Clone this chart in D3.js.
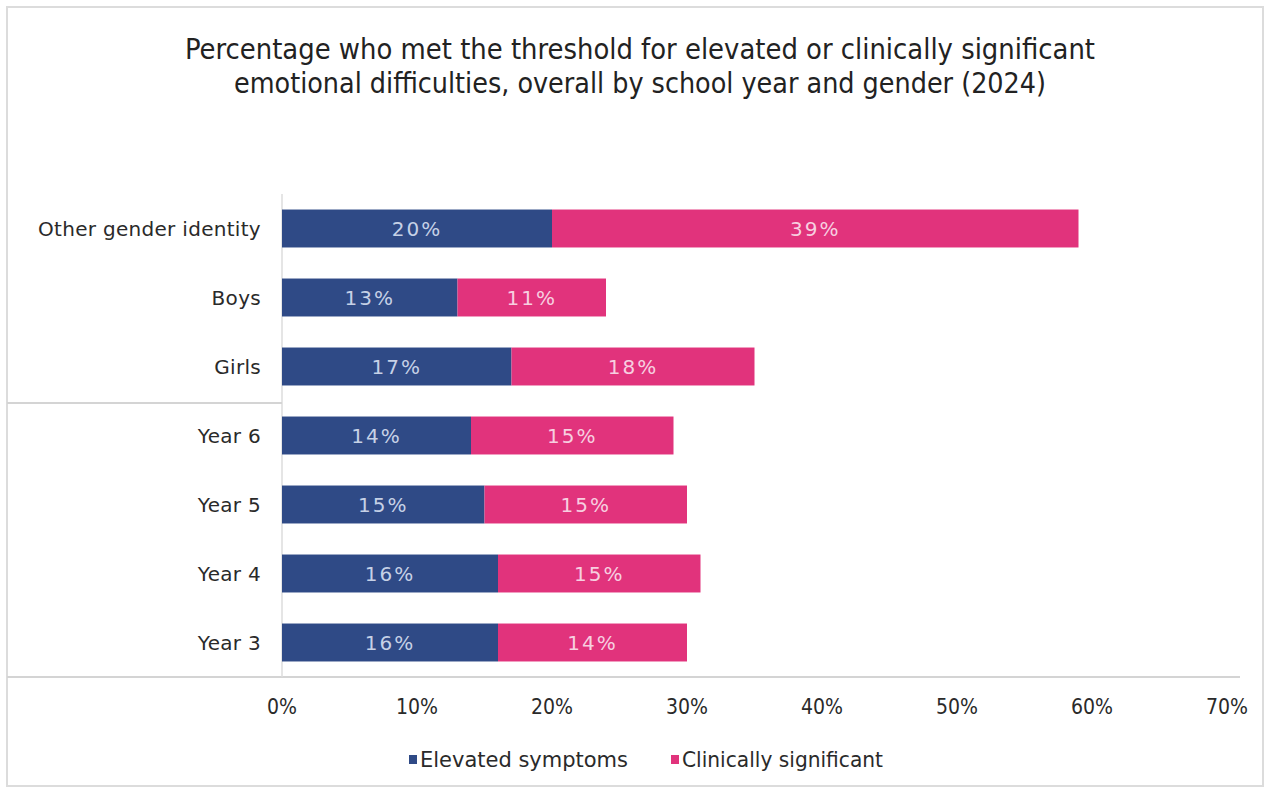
<!DOCTYPE html>
<html>
<head>
<meta charset="utf-8">
<script src="https://cdn.jsdelivr.net/npm/d3@7"></script>
<style>
  html, body { margin: 0; padding: 0; background: #ffffff; }
  svg { display: block; }
</style>
</head>
<body>
<div id="chart"></div>
<script>
// Categories, top to bottom
const categories = ["Other gender identity", "Boys", "Girls", "Year 6", "Year 5", "Year 4", "Year 3"];
// Percentage meeting each threshold
const elevated = [20, 13, 17, 14, 15, 16, 16];
const clinical = [39, 11, 18, 15, 15, 15, 14];
const seriesNames = ["Elevated symptoms", "Clinically significant"];
const tickValues = [0, 10, 20, 30, 40, 50, 60, 70];
const titleLines = [
  "Percentage who met the threshold for elevated or clinically significant",
  "emotional difficulties, overall by school year and gender (2024)"
];

const W = 1273, H = 791;
const colors = ["#2f4a86", "#e1337c"];
const condensed = "'Liberation Sans Narrow', 'DejaVu Sans Condensed', 'Arial Narrow', sans-serif";

const svg = d3.select("#chart").append("svg")
  .attr("width", W).attr("height", H);

// outer frame
svg.append("rect")
  .attr("x", 7).attr("y", 7).attr("width", 1256).attr("height", 779)
  .attr("fill", "#fff").attr("stroke", "#dcdcdc").attr("stroke-width", 2);

// title
const titleWidths = [910, 812];
svg.append("g").selectAll("text").data(titleLines).join("text")
  .attr("x", 640).attr("y", (d, i) => 59 + i * 34)
  .attr("text-anchor", "middle")
  .attr("font-family", condensed)
  .attr("font-size", 28)
  .attr("fill", "#222")
  .attr("textLength", (d, i) => titleWidths[i])
  .attr("lengthAdjust", "spacingAndGlyphs")
  .text(d => d);

const x = d3.scaleLinear().domain([0, 70]).range([282, 1227]);
const y = d3.scaleBand().domain(categories).range([194, 677])
  .paddingInner(0.45).paddingOuter(0.225);

// bottom axis baseline
svg.append("line")
  .attr("x1", 7).attr("x2", 1240).attr("y1", 677).attr("y2", 677)
  .attr("stroke", "#d4d4d4").attr("stroke-width", 2);

// vertical category axis line
svg.append("line")
  .attr("x1", x(0)).attr("x2", x(0)).attr("y1", 194).attr("y2", 677)
  .attr("stroke", "#dddddd").attr("stroke-width", 1.5);

// divider between gender and school-year groups
const divY = y("Girls") + y.bandwidth() + (y.step() - y.bandwidth()) / 2 + 2;
svg.append("line")
  .attr("x1", 7).attr("x2", x(0)).attr("y1", divY).attr("y2", divY)
  .attr("stroke", "#d4d4d4").attr("stroke-width", 2);

// stacked data
const rows = categories.map((c, i) => ({ cat: c, values: [elevated[i], clinical[i]] }));
const segs = [];
rows.forEach(r => {
  let acc = 0;
  r.values.forEach((v, k) => {
    segs.push({ cat: r.cat, k, x0: acc, x1: acc + v, v });
    acc += v;
  });
});

svg.append("g").selectAll("rect").data(segs).join("rect")
  .attr("x", d => x(d.x0))
  .attr("y", d => y(d.cat))
  .attr("width", d => x(d.x1) - x(d.x0))
  .attr("height", y.bandwidth())
  .attr("fill", d => colors[d.k]);

// value labels
svg.append("g").selectAll("text").data(segs).join("text")
  .attr("x", d => (x(d.x0) + x(d.x1)) / 2)
  .attr("y", d => y(d.cat) + y.bandwidth() / 2)
  .attr("dy", "0.36em")
  .attr("text-anchor", "middle")
  .attr("font-family", "'DejaVu Sans', sans-serif")
  .attr("font-size", 20)
  .attr("letter-spacing", 2)
  .attr("fill", d => d.k === 0 ? "#c6d1e6" : "#f7cfe0")
  .text(d => d.v + "%");

// category labels
svg.append("g").selectAll("text").data(categories).join("text")
  .attr("x", 261)
  .attr("y", d => y(d) + y.bandwidth() / 2)
  .attr("dy", "0.36em")
  .attr("text-anchor", "end")
  .attr("font-family", "'DejaVu Sans', sans-serif")
  .attr("font-size", 20)
  .attr("letter-spacing", 0.3)
  .attr("fill", "#2a2a2a")
  .text(d => d);

// x tick labels
svg.append("g").selectAll("text").data(tickValues).join("text")
  .attr("x", d => x(d))
  .attr("y", 714)
  .attr("text-anchor", "middle")
  .attr("font-family", condensed)
  .attr("font-size", 21)
  .attr("fill", "#2a2a2a")
  .text(d => d + "%");

// legend
const legendItems = [
  { name: seriesNames[0], color: colors[0], mx: 409, tx: 420, w: 208 },
  { name: seriesNames[1], color: colors[1], mx: 671, tx: 682, w: 201 }
];
const lg = svg.append("g");
lg.selectAll("rect").data(legendItems).join("rect")
  .attr("x", d => d.mx).attr("y", 755).attr("width", 8).attr("height", 9)
  .attr("fill", d => d.color);
lg.selectAll("text").data(legendItems).join("text")
  .attr("x", d => d.tx).attr("y", 767)
  .attr("font-family", condensed)
  .attr("font-size", 21)
  .attr("fill", "#2a2a2a")
  .attr("textLength", d => d.w)
  .attr("lengthAdjust", "spacingAndGlyphs")
  .text(d => d.name);
</script>
</body>
</html>
